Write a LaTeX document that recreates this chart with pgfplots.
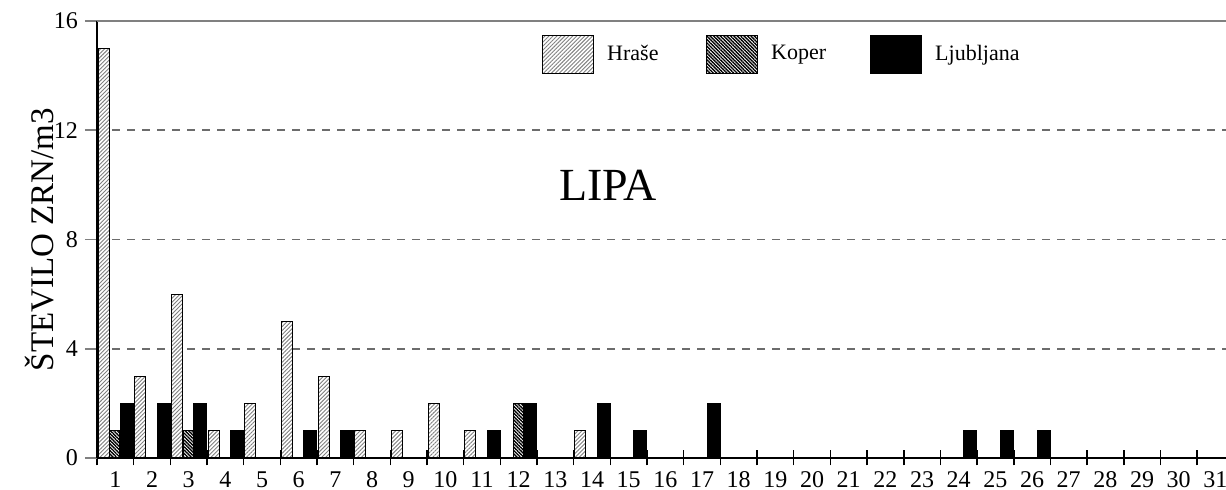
\documentclass[border=0pt]{standalone}
\usepackage{fontspec}
\setmainfont{Liberation Serif}
\usepackage{pgfplots}
\pgfplotsset{compat=1.18}
\usetikzlibrary{patterns.meta}
\pgfplotsset{bigleg/.style={legend image code/.code={\draw[##1] (0pt,-9.5pt) rectangle (25.5pt,9.5pt);}}}

\begin{document}
\begin{tikzpicture}
\path[use as bounding box] (-48.5pt,-16pt) rectangle (564.5pt,229pt);
\begin{axis}[
  at={(0pt,0pt)}, anchor=south west,
  scale only axis, width=564.5pt, height=218.5pt,
  xmin=0.5, xmax=31.29, ymin=0, ymax=16,
  axis x line*=bottom, axis y line*=left,
  x axis line style={-, black, line width=0.8pt},
  y axis line style={-, black, line width=1.2pt},
  ybar,
  xtick={1,...,31},
  minor xtick={0.5,1.5,...,30.5},
  ytick={0,4,8,12,16},
  tick align=outside,
  every major x tick/.append style={draw=none},
  every minor x tick/.append style={black, line width=0.8pt, yshift=3.75pt},
  minor tick length=7.5pt,
  every major y tick/.append style={gray, line width=0.8pt},
  major tick length=6pt,
  ymajorgrids,
  y grid style={gray!85!black, dash pattern=on 4pt off 3.5pt, line width=0.9pt},
  /pgf/number format/assume math mode=true,
  tick label style={font=\fontsize{12}{14}\selectfont},
  xticklabel style={inner sep=1pt, yshift=0.5pt},
  ylabel={ŠTEVILO ZRN/m3},
  ylabel style={font=\fontsize{16.5}{19}\selectfont, at={(axis description cs:-0.0505,0.5)}, anchor=center},
  legend style={at={(axis description cs:0.394,0.924)}, anchor=west, draw=none, fill=none,
    inner sep=0pt, nodes={inner sep=0pt}, font=\fontsize{11}{13}\selectfont,
    /tikz/every odd column/.append style={column sep=6.5pt},
    /tikz/every even column/.append style={column sep=5.5pt}},
  legend columns=3,
]
\addplot[draw=black, line width=0.5pt, preaction={fill=white},
  pattern={Lines[angle=45,distance=1.4pt,line width=0.45pt]}, pattern color=gray,
  bar width=5.5pt, bar shift=-5.9pt, bigleg]
  coordinates {(1,15)(2,3)(3,6)(4,1)(5,2)(6,5)(7,3)(8,1)(9,1)(10,2)(11,1)(14,1)};
\addlegendentry{\makebox[44pt][l]{Hraše}}
\addplot[draw=black, line width=0.5pt, preaction={fill=white},
  pattern={Lines[angle=-45,distance=1.2pt,line width=0.7pt]}, pattern color=black,
  bar width=5pt, bar shift=-0.25pt, bigleg]
  coordinates {(1,1)(3,1)(12,2)};
\addlegendentry{\makebox[44pt][l]{Koper}}
\addplot[draw=black, fill=black, line width=0.5pt,
  bar width=6.5pt, bar shift=5.75pt, bigleg]
  coordinates {(1,2)(2,2)(3,2)(4,1)(6,1)(7,1)(11,1)(12,2)(14,2)(15,1)(17,2)(24,1)(25,1)(26,1)};
\addlegendentry{\makebox[44pt][l]{Ljubljana}}
\draw[gray, line width=0.8pt] (axis description cs:0,1) -- (axis description cs:1,1);
\node[font=\fontsize{23}{27}\selectfont] at (axis description cs:0.4526,0.625) {LIPA};
\end{axis}
\end{tikzpicture}
\end{document}
